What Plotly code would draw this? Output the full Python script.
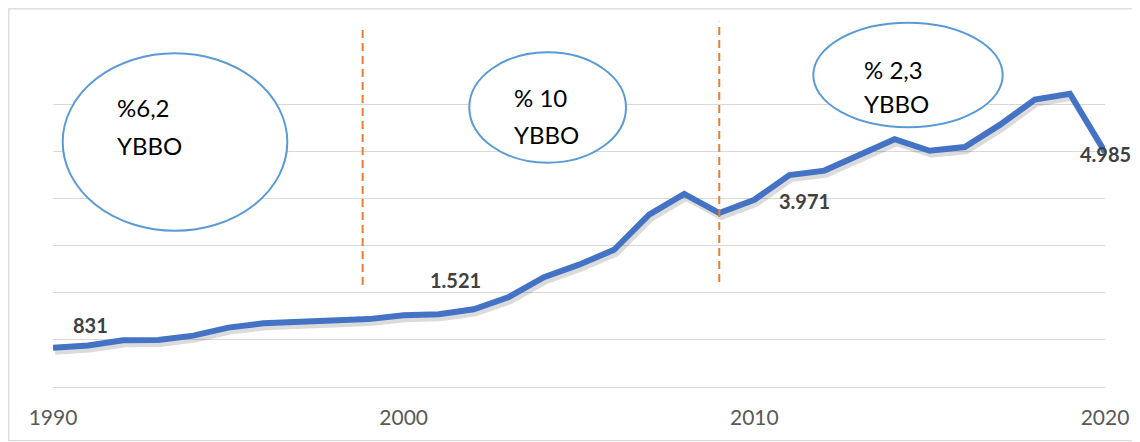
import plotly.graph_objects as go

years = list(range(1990, 2021))
values = [831, 880, 990, 995, 1090, 1260, 1350, 1390, 1400, 1440,
          1521, 1545, 1650, 1910, 2330, 2595, 2910, 3655, 4095, 3690,
          3971, 4495, 4590, 4910, 5255, 5010, 5090, 5560, 6095, 6220,
          4985]

label_years = [1990, 2000, 2010, 2020]
tick_years = [1990, 2000, 2010, 2020]
split_years = [1998.83, 2009]
period_rates = ["%6,2", "% 10", "% 2,3"]

# plot area in page pixels (1140 x 442 window); the page body adds an 8px margin
L, R, T, B = 53, 1105, 57, 387
W, H = 1140, 442
OFF = 8
YMAX = 7000


def px(x):
    return (x - L) / (R - L)


def py(y):
    return (B - y) / (B - T)


# shadow offset in pixels
sdx, sdy = 2, 4
yr_per_px = (tick_years[-1] - tick_years[0]) / (R - L)
val_per_px = YMAX / (B - T)

fig = go.Figure()
fig.add_trace(go.Scatter(x=[], y=[], showlegend=False, hoverinfo="skip"))
fig.add_trace(go.Scatter(
    x=years, y=values, mode="lines", xaxis="x2", yaxis="y2",
    line=dict(color="rgba(0,0,0,0.14)", width=6),
    showlegend=False, hoverinfo="skip"))
fig.add_trace(go.Scatter(
    x=years, y=values, mode="lines", xaxis="x3", yaxis="y3",
    line=dict(color="#4472C4", width=6),
    showlegend=False))

# data labels
offsets = [(37, 23), (52, 35), (50, -1), (0, -2)]
for yr, (dx, dy) in zip(label_years, offsets):
    v = values[years.index(yr)]
    fig.add_annotation(x=yr, y=v, xref="x3", yref="y3",
                       text=f"{v:,}".replace(",", "."), showarrow=False,
                       xshift=dx, yshift=dy,
                       font=dict(family="Lato", size=20, color="#404040", weight="bold"))

shapes = []
# outer frame (left/top edges sit just inside the drawable area)
shapes.append(dict(type="rect", xref="paper", yref="paper",
                   x0=px(OFF + 0.8), x1=px(1160), y0=py(440.7), y1=py(OFF + 0.8),
                   line=dict(color="#d9d9d9", width=1.3), layer="below"))

# period separators
dash_px = [(26, 285), (21.7, 282)]
for yr, (top, bot) in zip(split_years, dash_px):
    shapes.append(dict(type="line", xref="x", yref="paper",
                       x0=yr, x1=yr, y0=py(bot), y1=py(top),
                       line=dict(color="#ED7D31", width=2, dash="8px,5px")))

# ellipses with growth rate notes
ellipses = [(62.7, 287.3, 53.3, 230.7),
            (469.3, 626, 52.3, 162.7),
            (813.3, 1002.7, 22.7, 127.3)]
text_pos = [(116, 107.2, 145), (512.7, 97.8, 134.7), (862.7, 69.2, 103.3)]
for (x0, x1, y0, y1), (tx, ty1, ty2), rate in zip(ellipses, text_pos, period_rates):
    shapes.append(dict(type="circle", xref="paper", yref="paper",
                       x0=px(x0), x1=px(x1), y0=py(y1), y1=py(y0),
                       line=dict(color="#5B9BD5", width=2), fillcolor="white",
                       layer="above"))
    for txt, ty in [(rate, ty1), ("YBBO", ty2)]:
        fig.add_annotation(x=px(tx), y=py(ty), xref="paper", yref="paper",
                           text=txt, showarrow=False, xanchor="left",
                           yanchor="middle", borderpad=0,
                           font=dict(family="Lato", size=24, color="black"))

xr = [tick_years[0], tick_years[-1]]
yr_ = [0, YMAX]
fig.update_layout(
    width=W, height=H,
    margin=dict(l=L - OFF, r=W - (R - OFF), t=T - OFF, b=H - (B - OFF)),
    paper_bgcolor="white", plot_bgcolor="white",
    font=dict(family="Lato"),
    shapes=shapes,
    xaxis=dict(range=xr, tickvals=tick_years, showgrid=False, zeroline=False,
               showline=True, linecolor="#d9d9d9", linewidth=1.3,
               ticks="", ticklabelstandoff=12,
               tickfont=dict(family="Lato", size=21, color="#595959")),
    yaxis=dict(range=yr_, dtick=1000, showgrid=True, gridcolor="#d9d9d9",
               gridwidth=1.3, zeroline=False, showticklabels=False,
               showline=False),
    xaxis2=dict(overlaying="x", visible=False,
                range=[xr[0] - sdx * yr_per_px, xr[1] - sdx * yr_per_px]),
    yaxis2=dict(overlaying="y", visible=False,
                range=[yr_[0] + sdy * val_per_px, yr_[1] + sdy * val_per_px]),
    xaxis3=dict(overlaying="x", visible=False, range=xr),
    yaxis3=dict(overlaying="y", visible=False, range=yr_),
)

fig.write_html("out.html", config={"displayModeBar": False})
